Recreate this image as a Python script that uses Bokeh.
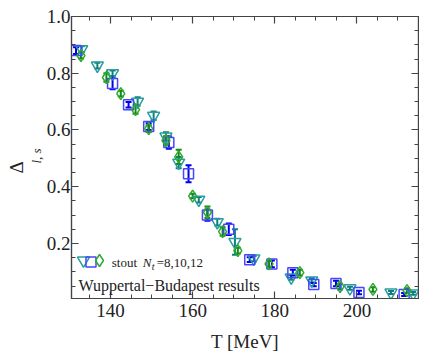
import math
from bokeh.plotting import figure
from bokeh.models import (ColumnDataSource, Whisker, TeeHead, LinearAxis, FixedTicker,
                          Range1d, Label, Legend, LegendItem, PrintfTickFormatter,
                          CustomJSTickFormatter, Title)
from bokeh.core.properties import value
from bokeh.embed import file_html
from bokeh.resources import INLINE

# ---------------- data ----------------
T8 = [133.0, 136.8, 140.5, 146.6, 150.5, 153.5, 156.6, 161.5, 166.0, 170.3, 174.9, 184.0, 189.0, 198.3, 208.3, 213.7]
D8 = [0.885, 0.827, 0.800, 0.700, 0.650, 0.577, 0.485, 0.354, 0.275, 0.205, 0.147, 0.080, 0.070, 0.042, 0.027, 0.024]
E8 = [0.010, 0.010, 0.010, 0.015, 0.015, 0.015, 0.020, 0.010, 0.012, 0.045, 0.010, 0.008, 0.008, 0.005, 0.005, 0.005]

T10 = [131.6, 140.5, 144.4, 149.3, 154.2, 159.0, 163.6, 168.8, 173.9, 179.3, 184.4, 189.5, 194.9, 200.5, 211.5]
D10 = [0.880, 0.764, 0.689, 0.612, 0.556, 0.446, 0.300, 0.250, 0.143, 0.128, 0.097, 0.055, 0.059, 0.027, 0.020]
E10 = [0.012, 0.020, 0.010, 0.012, 0.022, 0.030, 0.020, 0.020, 0.008, 0.012, 0.010, 0.006, 0.010, 0.006, 0.005]

T12 = [132.8, 139.0, 142.5, 146.1, 149.3, 153.5, 156.6, 160.0, 163.6, 167.3, 171.0, 178.6, 186.1, 195.9, 203.9, 212.2]
D12 = [0.862, 0.785, 0.728, 0.672, 0.605, 0.563, 0.505, 0.367, 0.310, 0.242, 0.175, 0.128, 0.097, 0.048, 0.038, 0.034]
E12 = [0.010, 0.015, 0.010, 0.015, 0.012, 0.015, 0.025, 0.008, 0.020, 0.015, 0.010, 0.010, 0.010, 0.010, 0.008, 0.008]

x_ticks = [140, 160, 180, 200]
y_ticks = [0.2, 0.4, 0.6, 0.8, 1.0]

FONT = "Liberation Serif"
TXT = "#222222"
AX = "#444444"

C8, C8E = "#2a9e9e", "#117f7f"
C10, C10E = "#4646ff", "#0000ee"
C12, C12E = "#2eaa2e", "#138a13"

p = figure(width=419, height=354, output_backend="svg", toolbar_location=None,
           x_range=Range1d(130.5, 215.0), y_range=Range1d(0.006, 1.0),
           min_border_left=71, min_border_right=1, min_border_top=16, min_border_bottom=56)
p.background_fill_color = "white"
p.border_fill_color = "white"
p.outline_line_color = AX
p.outline_line_width = 1.2
p.grid.visible = False

minor_x = [v for v in range(130, 216, 5) if v not in x_ticks]
minor_y = [round(0.05 * i, 2) for i in range(0, 21) if round(0.05 * i, 2) not in y_ticks]

def style_axis(ax, ticks, minor, show_labels):
    ax.ticker = FixedTicker(ticks=ticks, minor_ticks=minor)
    ax.major_tick_in = 7
    ax.major_tick_out = 0
    ax.minor_tick_in = 4
    ax.minor_tick_out = 0
    ax.axis_line_color = AX
    ax.axis_line_width = 1.2
    ax.major_tick_line_color = AX
    ax.minor_tick_line_color = AX
    ax.major_tick_line_width = 1.2
    ax.minor_tick_line_width = 1
    ax.major_label_text_font = FONT
    ax.major_label_text_font_size = "19px"
    ax.major_label_text_color = TXT
    if not show_labels:
        ax.formatter = CustomJSTickFormatter(code="return ''")
        ax.major_label_standoff = 0

style_axis(p.xaxis[0], x_ticks, minor_x, True)
style_axis(p.yaxis[0], y_ticks, minor_y, True)
p.xaxis[0].major_label_standoff = 5
p.yaxis[0].major_label_standoff = 1
p.yaxis[0].formatter = PrintfTickFormatter(format="%.1f")
p.xaxis[0].axis_label = "T [MeV]"
p.xaxis[0].axis_label_text_font = FONT
p.xaxis[0].axis_label_text_font_style = "normal"
p.xaxis[0].axis_label_text_font_size = "19px"
p.xaxis[0].axis_label_text_color = TXT
p.xaxis[0].axis_label_standoff = 11

top = LinearAxis()
right = LinearAxis()
style_axis(top, x_ticks, minor_x, False)
style_axis(right, y_ticks, minor_y, False)
p.add_layout(top, "above")
p.add_layout(right, "right")

def series(T, D, E, marker, size, col, ecol, lw):
    src = ColumnDataSource(dict(x=T, y=D,
                                lo=[d - e for d, e in zip(D, E)],
                                hi=[d + e for d, e in zip(D, E)]))
    w = Whisker(source=src, base="x", lower="lo", upper="hi",
                line_color=ecol, line_width=2,
                upper_head=TeeHead(size=6, line_color=ecol, line_width=2),
                lower_head=TeeHead(size=6, line_color=ecol, line_width=2))
    p.add_layout(w)
    r = p.scatter("x", "y", source=src, marker=marker, size=size,
                  fill_color=None, line_color=col, line_width=lw)
    return r

r8 = series(T8, D8, E8, "inverted_triangle", 12, C8, C8E, 1.5)
r10 = series(T10, D10, E10, "square", 10, C10, C10E, 1.5)
r12 = series(T12, D12, E12, "diamond", 12, C12, C12E, 1.5)

# legend keys: one Legend per series, glyph box sized so the key marker matches the plotted marker
def key(r, box, loc):
    lg = Legend(items=[LegendItem(label=value(""), renderers=[r])],
                location=loc, glyph_width=box, glyph_height=box,
                label_width=0, label_standoff=0, label_height=0,
                spacing=0, padding=0, margin=0,
                border_line_color=None, background_fill_alpha=0,
                label_text_font_size="1px")
    p.add_layout(lg)

key(r8, 30, (-3, 23))
key(r10, 25, (7, 24))
key(r12, 30, (13, 23))

# legend text: stout N_t=8,10,12
lx, ly = 140.3, 0.133
fs = "13px"
p.add_layout(Label(x=lx, y=ly, text="stout", text_font=FONT, text_font_size=fs,
                   text_color=TXT, text_baseline="middle"))
p.add_layout(Label(x=lx, y=ly, x_offset=31, text="N", text_font=FONT, text_font_size=fs,
                   text_font_style="italic", text_color=TXT, text_baseline="middle"))
p.add_layout(Label(x=lx, y=ly, x_offset=40, y_offset=-4, text="t", text_font=FONT,
                   text_font_size="10px", text_font_style="italic", text_color=TXT,
                   text_baseline="middle"))
p.add_layout(Label(x=lx, y=ly, x_offset=45, text="=8,10,12", text_font=FONT,
                   text_font_size=fs, text_color=TXT, text_baseline="middle"))

p.add_layout(Label(x=132.2, y=0.052, text="Wuppertal\u2212Budapest results", text_font=FONT,
                   text_font_size="16px", text_color=TXT, text_baseline="alphabetic"))

# y axis label: Delta with italic subscript l,s (two rotated left titles;
# the subscript sits between the tick labels and the Delta)
ysub = Title(text="l, s", align="left", offset=135, standoff=0,
             text_font=FONT, text_font_size="13px", text_font_style="italic",
             text_color=TXT, text_line_height=1.0)
p.add_layout(ysub, "left")
ytitle = Title(text="\u0394", align="left", offset=125, standoff=0,
               text_font=FONT, text_font_size="19px", text_font_style="normal",
               text_color=TXT)
p.add_layout(ytitle, "left")

open("out.html", "w").write(file_html(p, INLINE))
